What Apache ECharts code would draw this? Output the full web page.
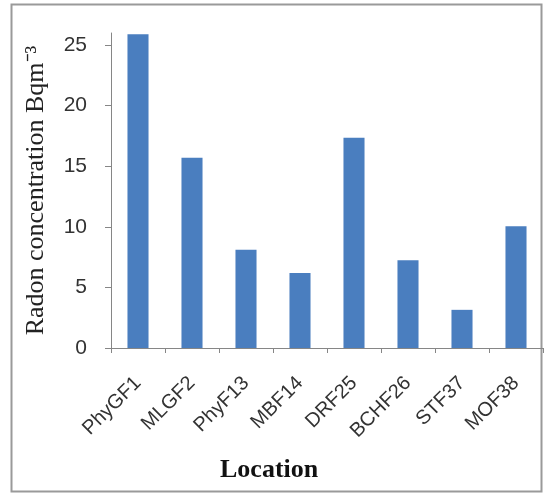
<!DOCTYPE html>
<html>
<head>
<meta charset="utf-8">
<script src="https://cdn.jsdelivr.net/npm/echarts@6/dist/echarts.min.js"></script>
<style>
html,body{margin:0;padding:0;background:#fff;}
#chart{width:544px;height:494px;}
</style>
</head>
<body>
<div id="chart"></div>
<script>
const categories = ['PhyGF1','MLGF2','PhyF13','MBF14','DRF25','BCHF26','STF37','MOF38'];
const radonValues = [25.9, 15.7, 8.1, 6.2, 17.35, 7.25, 3.15, 10.05];
const yTicks = [0, 5, 10, 15, 20, 25];
const yTitle = 'Radon concentration Bqm\u207B\u00B3';
const xTitle = 'Location';

const chart = echarts.init(document.getElementById('chart'));
chart.setOption({
  animation: false,
  backgroundColor: '#ffffff',
  title: {
    text: xTitle,
    left: 215,
    top: 452,
    textStyle: { fontFamily: 'Liberation Serif', fontWeight: 'bold', fontSize: 26, color: '#111' }
  },
  graphic: [{
    type: 'rect',
    shape: { x: 11.5, y: 4.5, width: 530, height: 487 },
    style: { fill: 'none', stroke: '#9a9a9a', lineWidth: 2 },
    silent: true
  }],
  grid: { left: 111, right: 1, top: 33, bottom: 146, containLabel: false },
  xAxis: {
    type: 'category',
    data: categories,
    axisLine: { lineStyle: { color: '#868686', width: 1 } },
    axisTick: { show: true, length: 5, alignWithLabel: false, lineStyle: { color: '#868686' } },
    axisLabel: { rotate: 45, interval: 0, margin: 32, fontFamily: 'Liberation Sans', fontSize: 20, color: '#333' }
  },
  yAxis: {
    type: 'value',
    min: 0,
    max: 26,
    name: yTitle,
    nameLocation: 'middle',
    nameGap: 62,
    nameTextStyle: { fontFamily: 'Liberation Serif', fontSize: 26, color: '#222' },
    axisLine: { show: true, lineStyle: { color: '#868686', width: 1 } },
    axisTick: { show: true, length: 6, customValues: yTicks, lineStyle: { color: '#868686' } },
    axisLabel: { customValues: yTicks, margin: 24, fontFamily: 'Liberation Sans', fontSize: 21, color: '#333' },
    splitLine: { show: false }
  },
  series: [{
    type: 'bar',
    data: radonValues,
    barWidth: '39%',
    itemStyle: { color: '#4a7ebf' }
  }]
});
</script>
</body>
</html>
